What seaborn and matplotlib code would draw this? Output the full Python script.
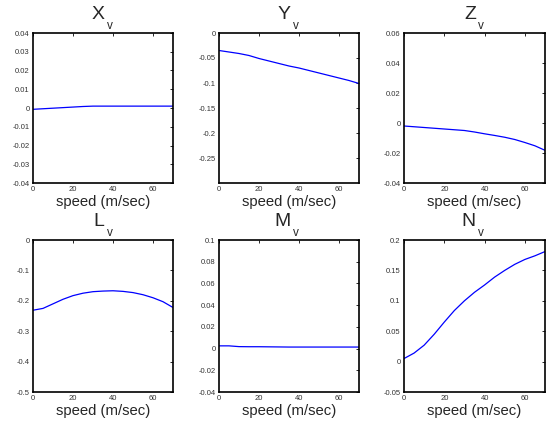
import matplotlib
matplotlib.use("Agg")
import matplotlib.pyplot as plt
import pandas as pd
import seaborn as sns

# speed samples (m/sec) used by all six panels
speed = [0, 5, 10, 15, 20, 25, 30, 35, 40, 45, 50, 55, 60, 65, 70]

x_v = [-0.0007, -0.0004, -0.0001, 0.0002, 0.0005, 0.0008, 0.0010, 0.0010,
       0.0010, 0.0010, 0.0010, 0.0010, 0.0010, 0.0010, 0.0010]
y_v = [-0.035, -0.038, -0.041, -0.045, -0.051, -0.056, -0.061, -0.066,
       -0.070, -0.075, -0.080, -0.085, -0.090, -0.095, -0.101]
z_v = [-0.0020, -0.0025, -0.0030, -0.0035, -0.0040, -0.0045, -0.0050, -0.0060,
       -0.0072, -0.0083, -0.0095, -0.0110, -0.0130, -0.0152, -0.0182]
l_v = [-0.231, -0.225, -0.210, -0.195, -0.183, -0.175, -0.170, -0.168,
       -0.167, -0.169, -0.173, -0.180, -0.190, -0.203, -0.222]
m_v = [0.0025, 0.0025, 0.0018, 0.0017, 0.0017, 0.0016, 0.0015, 0.0014,
       0.0014, 0.0014, 0.0014, 0.0014, 0.0014, 0.0014, 0.0014]
n_v = [0.005, 0.014, 0.027, 0.045, 0.065, 0.084, 0.100, 0.114,
       0.126, 0.139, 0.150, 0.160, 0.168, 0.174, 0.181]

letters = ["X", "Y", "Z", "L", "M", "N"]
series = [x_v, y_v, z_v, l_v, m_v, n_v]
ylims = [(-0.04, 0.04), (-0.3, 0), (-0.04, 0.06), (-0.5, 0), (-0.04, 0.1), (-0.05, 0.2)]
yticks = [
    [-0.04, -0.03, -0.02, -0.01, 0, 0.01, 0.02, 0.03, 0.04],
    [-0.25, -0.2, -0.15, -0.1, -0.05, 0],
    [-0.04, -0.02, 0, 0.02, 0.04, 0.06],
    [-0.5, -0.4, -0.3, -0.2, -0.1, 0],
    [-0.04, -0.02, 0, 0.02, 0.04, 0.06, 0.08, 0.1],
    [-0.05, 0, 0.05, 0.1, 0.15, 0.2],
]
xticks = [0, 20, 40, 60]

sns.set_style("white")
plt.rcParams["font.family"] = ["Liberation Sans", "DejaVu Sans"]

fig, axes = plt.subplots(2, 3, figsize=(5.5, 4.23), dpi=100)
# axes boxes (pixels)
lefts = [33, 219, 404]
rights = [173, 359, 545]
tops = [33, 240]
bottoms = [183, 392]
W, H = 550, 423


def fmt(v):
    return "0" if v == 0 else ("%g" % v)


for i, ax in enumerate(axes.flat):
    r, c = divmod(i, 3)
    ax.set_position([lefts[c] / W, 1 - bottoms[r] / H,
                     (rights[c] - lefts[c]) / W, (bottoms[r] - tops[r]) / H])
    df = pd.DataFrame({"speed": speed, "val": series[i]})
    sns.lineplot(data=df, x="speed", y="val", ax=ax, color="#0000ff", linewidth=0.9)
    ax.set_xlim(0, 70)
    ax.set_ylim(*ylims[i])
    ax.set_xticks(xticks)
    ax.set_xticklabels([str(t) for t in xticks])
    ax.set_yticks(yticks[i])
    ax.set_yticklabels([fmt(t) for t in yticks[i]])
    ax.tick_params(direction="in", length=2, width=0.7, labelsize=5.5,
                   labelcolor="#333333", top=True, right=True, pad=2.5)
    for s in ax.spines.values():
        s.set_linewidth(1.2)
        s.set_color("black")
    ax.set_xlabel("speed (m/sec)", fontsize=10.7, labelpad=1)
    ax.set_ylabel("")
    # big letter with a low subscript "v", as in the original titles
    ax.annotate(letters[i], xy=(0.5, 1), xycoords="axes fraction",
                xytext=(1, 10), textcoords="offset points",
                ha="right", va="baseline", fontsize=14)
    ax.annotate("v", xy=(0.5, 1), xycoords="axes fraction",
                xytext=(2.5, 3), textcoords="offset points",
                ha="left", va="baseline", fontsize=8.5)

fig.savefig("out.png", dpi=100)
